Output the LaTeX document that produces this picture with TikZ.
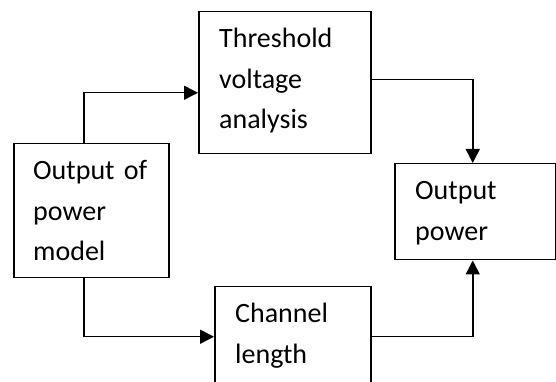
\documentclass[tikz,border=0pt]{standalone}
\usepackage{fontspec}
\setmainfont{Carlito}
\usetikzlibrary{arrows.meta}
\begin{document}
\begin{tikzpicture}[x=1pt, y=1pt,
  blk/.style={draw, line width=1.5pt, anchor=north west, inner sep=0pt},
  txt/.style={anchor=base west, inner sep=0pt, align=left, text width=140pt,
    font=\fontsize{28}{40.5}\selectfont},
  flow/.style={line width=1.5pt, -{Triangle[length=14pt, width=14pt]}}
]
  \useasboundingbox (0,0) rectangle (556,382);

  \node[blk, minimum width=155pt, minimum height=134pt] (pm) at (13,239) {};
  \node[blk, minimum width=172pt, minimum height=142pt] (tv) at (198,371) {};
  \node[blk, minimum width=161pt, minimum height=96pt] (op) at (394,219) {};
  \node[blk, minimum width=156pt, minimum height=100pt] (cl) at (214,96) {};

  \node[txt] (pmtext) at ([shift={(20,-37)}]pm.north west) {Output of\\power\\model};
  \node[txt] (tvtext) at ([shift={(21,-37)}]tv.north west) {Threshold\\voltage\\analysis};
  \node[txt] (optext) at ([shift={(21,-37)}]op.north west) {Output\\power};
  \node[txt] (cltext) at ([shift={(21,-37)}]cl.north west) {Channel\\length};

  \draw[flow] ([xshift=-7.5]pm.north) |- ([yshift=-10]tv.west);
  \draw[flow] ([xshift=-7.5]pm.south) |- (cl.west);
  \draw[flow] ([yshift=3]tv.east) -| ([xshift=-2.5]op.north);
  \draw[flow] (cl.east) -| ([xshift=-2.5]op.south);
\end{tikzpicture}
\end{document}
